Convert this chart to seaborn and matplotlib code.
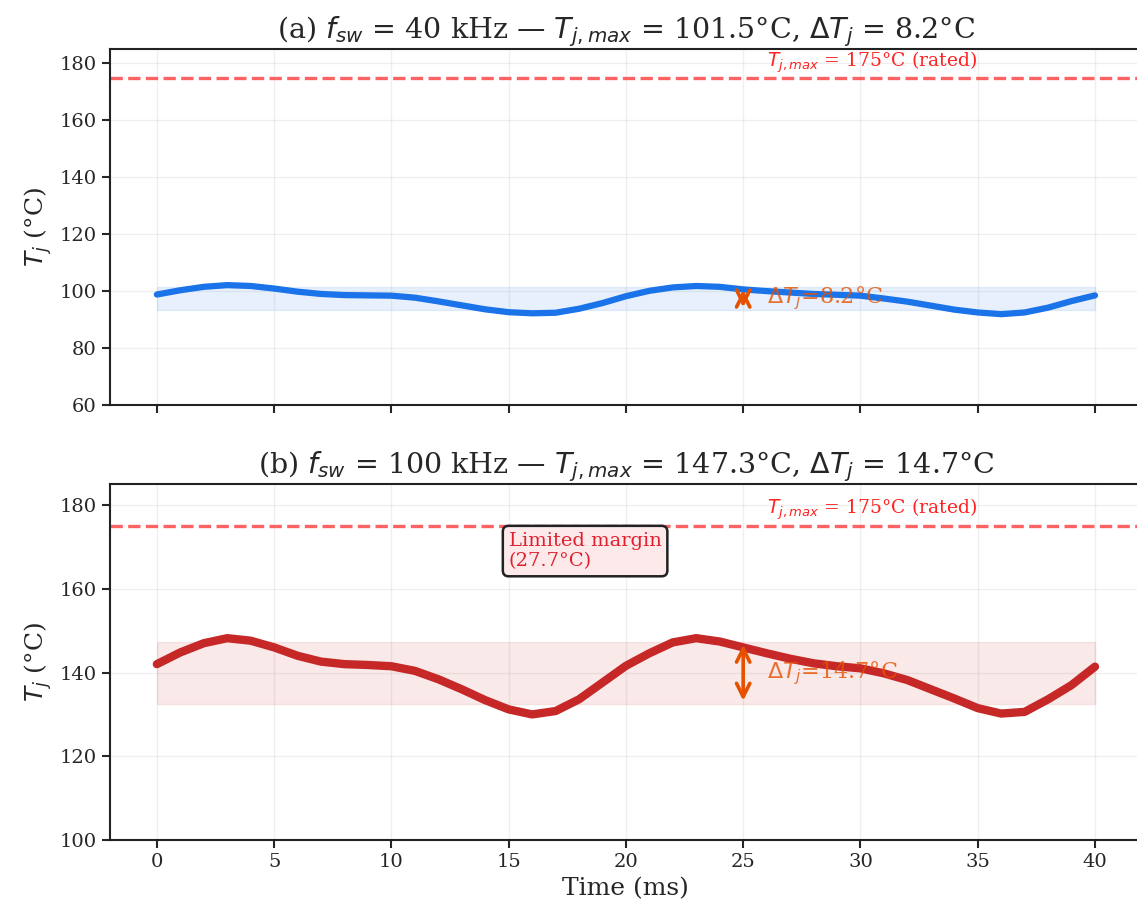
import numpy as np
import pandas as pd
import matplotlib
matplotlib.use("Agg")
import matplotlib.pyplot as plt
import seaborn as sns

# Tempo (ms) e temperatura de junção
time_ms = list(range(0, 41))
tj_40k = [98.8, 100.3, 101.5, 102.1, 101.8, 100.9, 99.8, 99.0, 98.6, 98.5,
          98.4, 97.7, 96.4, 95.0, 93.6, 92.6, 92.2, 92.4, 93.8, 95.8,
          98.2, 100.1, 101.3, 101.8, 101.5, 100.6, 100.0, 99.5, 99.0, 98.7,
          98.4, 97.4, 96.3, 94.9, 93.5, 92.5, 91.9, 92.5, 94.2, 96.5, 98.5]
tj_100k = [142.0, 144.8, 147.0, 148.2, 147.6, 146.0, 144.0, 142.6, 142.0, 141.8,
           141.5, 140.4, 138.4, 136.0, 133.4, 131.2, 130.0, 130.8, 133.6, 137.6,
           141.6, 144.6, 147.2, 148.2, 147.4, 146.0, 144.6, 143.3, 142.2, 141.5,
           141.0, 139.8, 138.2, 136.0, 133.8, 131.5, 130.2, 130.6, 133.6, 137.0, 141.4]

panel_tags = ["(a)", "(b)"]
freqs_khz = [40, 100]
tj_max = [101.5, 147.3]
delta_tj = [8.2, 14.7]
ylims = [(60, 185), (100, 185)]
yticks = [[60, 80, 100, 120, 140, 160, 180], [100, 120, 140, 160, 180]]
tj_rated = 175
margin = 27.7

df = pd.DataFrame({"time": time_ms, "a": tj_40k, "b": tj_100k})

sns.set_theme(style="ticks")
plt.rcParams["font.family"] = ["DejaVu Serif"]
plt.rcParams["axes.edgecolor"] = "#222222"
plt.rcParams["axes.linewidth"] = 1.5

fig, axes = plt.subplots(2, 1, figsize=(11.37, 9.13), dpi=100, sharex=True)
fig.subplots_adjust(left=0.0967, right=1.0043, top=0.9463, bottom=0.0799, hspace=0.222)

line_colors = ["#1a73e8", "#c62828"]
line_widths = [4.5, 6.0]

for i, ax in enumerate(axes):
    col = ["a", "b"][i]
    sns.lineplot(data=df, x="time", y=col, ax=ax, color=line_colors[i], lw=line_widths[i])
    tmin = tj_max[i] - delta_tj[i]
    ax.fill_between(df["time"], tmin, tj_max[i], color=line_colors[i], alpha=0.1)
    ax.axhline(tj_rated, color="#ff3b3b", ls="--", lw=2.4, alpha=0.8)
    ax.text(26, 176, r"$T_{j,max}$ = 175°C (rated)", color="#ff2222", fontsize=13.5, va="bottom")
    ax.annotate("", xy=(25, tj_max[i]), xytext=(25, tmin),
                arrowprops=dict(arrowstyle="<->", color="#e65100", lw=2.6, mutation_scale=24))
    ax.text(26, tj_max[i] - delta_tj[i] / 2, rf"$\Delta T_j$={delta_tj[i]}°C",
            color="#e65100", fontsize=16, va="center", alpha=0.8)
    ax.set_title(rf"{panel_tags[i]} $f_{{sw}}$ = {freqs_khz[i]} kHz — $T_{{j,max}}$ = {tj_max[i]}°C, "
                 rf"$\Delta T_j$ = {delta_tj[i]}°C", fontsize=20.5, pad=8)
    ax.set_ylim(*ylims[i])
    ax.set_yticks(yticks[i])
    ax.set_xlim(-2, 42)
    ax.set_xticks(range(0, 41, 5))
    ax.set_ylabel(r"$T_j$ (°C)", fontsize=18)
    ax.set_xlabel("")
    ax.grid(True, alpha=0.3)
    ax.tick_params(labelsize=14, length=6, width=1.5)

axes[1].text(15, 169, "Limited margin\n" + f"({margin}°C)", color="#e0202e", fontsize=14,
             va="center", ha="left",
             bbox=dict(boxstyle="round,pad=0.3", facecolor="#fde8ea", edgecolor="#222222", lw=1.8))
axes[1].set_xlabel("Time (ms)", fontsize=18)

plt.savefig("out.png", dpi=100)
